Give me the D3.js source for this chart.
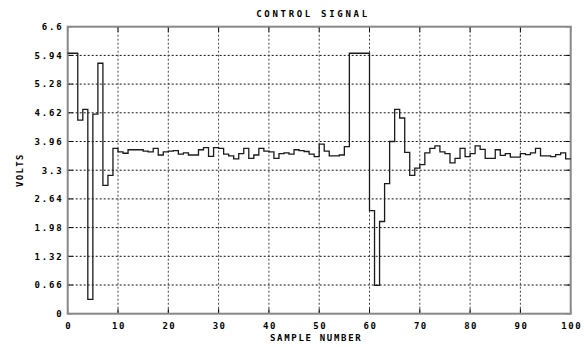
<!DOCTYPE html>
<html>
<head>
<meta charset="utf-8">
<style>
body{
    margin:0;
    background:#fff;
}
svg text{
    font-family:"DejaVu Sans Mono", "Liberation Mono", monospace;
    font-weight:bold;
    fill:#000;
}
</style>
<title>Control Signal</title>
</head>
<body>
<svg id="chart" width="584" height="347"></svg>
<script src="https://d3js.org/d3.v7.min.js"></script>
<script>
// control signal, one value per sample (volts), samples 0..99
var volts = [
 5.99, 5.99, 4.45, 4.70, 0.33, 4.59, 5.76, 2.95, 3.18, 3.80,
 3.72, 3.69, 3.77, 3.77, 3.77, 3.74, 3.72, 3.80, 3.65, 3.72,
 3.74, 3.75, 3.67, 3.70, 3.65, 3.65, 3.77, 3.82, 3.62, 3.82,
 3.80, 3.67, 3.63, 3.56, 3.68, 3.80, 3.57, 3.65, 3.80, 3.74,
 3.72, 3.57, 3.68, 3.70, 3.67, 3.77, 3.75, 3.73, 3.67, 3.61,
 3.90, 3.74, 3.63, 3.63, 3.65, 3.84, 5.99, 5.99, 5.99, 5.99,
 2.37, 0.65, 2.12, 2.99, 3.96, 4.70, 4.50, 3.71, 3.18, 3.35,
 3.43, 3.70, 3.80, 3.86, 3.72, 3.68, 3.47, 3.57, 3.80, 3.61,
 3.68, 3.86, 3.78, 3.57, 3.57, 3.77, 3.64, 3.68, 3.60, 3.60,
 3.68, 3.66, 3.70, 3.80, 3.63, 3.63, 3.61, 3.66, 3.70, 3.56
];
var xTicks = [0, 10, 20, 30, 40, 50, 60, 70, 80, 90, 100];
var yTicks = [0, 0.66, 1.32, 1.98, 2.64, 3.3, 3.96, 4.62, 5.28, 5.94, 6.6];
var title = "CONTROL SIGNAL";
var xTitle = "SAMPLE NUMBER";
var yTitle = "VOLTS";

var svg = d3.select("#chart");
var m = {l: 67.7, r: 570.7, t: 26.7, b: 313.7};

var x = d3.scaleLinear().domain([0, 100]).range([m.l, m.r]);
var y = d3.scaleLinear().domain([0, 6.6]).range([m.b, m.t]);

// grid
svg.append("g").selectAll("line").data(yTicks.slice(1, -1)).enter().append("line")
    .attr("x1", m.l).attr("x2", m.r)
    .attr("y1", function(d){ return y(d); }).attr("y2", function(d){ return y(d); })
    .attr("stroke", "#111").attr("stroke-width", 1).attr("stroke-dasharray", "2,2");
svg.append("g").selectAll("line").data(xTicks.slice(1, -1)).enter().append("line")
    .attr("y1", m.t).attr("y2", m.b)
    .attr("x1", function(d){ return x(d); }).attr("x2", function(d){ return x(d); })
    .attr("stroke", "#444").attr("stroke-width", 1).attr("stroke-dasharray", "2,2");

// inward ticks on all sides
var tk = 5;
var ticks = svg.append("g").attr("stroke", "#000").attr("stroke-width", 1);
yTicks.forEach(function(d){
    ticks.append("line").attr("x1", m.l).attr("x2", m.l + tk).attr("y1", y(d)).attr("y2", y(d));
    ticks.append("line").attr("x1", m.r - tk).attr("x2", m.r).attr("y1", y(d)).attr("y2", y(d));
});
xTicks.forEach(function(d){
    ticks.append("line").attr("y1", m.b).attr("y2", m.b - tk).attr("x1", x(d)).attr("x2", x(d));
    ticks.append("line").attr("y1", m.t).attr("y2", m.t + tk).attr("x1", x(d)).attr("x2", x(d));
});

// frame
svg.append("rect")
    .attr("x", m.l).attr("y", m.t)
    .attr("width", m.r - m.l).attr("height", m.b - m.t)
    .attr("fill", "none").attr("stroke", "#888").attr("stroke-width", 2);

// step trace
var pts = volts.map(function(v, i){ return [i, v]; });
pts.push([volts.length, volts[volts.length - 1]]);
var line = d3.line()
    .x(function(d){ return x(d[0]); })
    .y(function(d){ return y(d[1]); })
    .curve(d3.curveStepAfter);
svg.append("path").datum(pts)
    .attr("d", line)
    .attr("fill", "none").attr("stroke", "#1a1a1a").attr("stroke-width", 1.3);

// tick labels
svg.append("g").selectAll("text").data(yTicks).enter().append("text")
    .attr("x", m.l - 4).attr("y", function(d){ return y(d) + 3.3; })
    .attr("text-anchor", "end")
    .style("font-size", "9px").style("letter-spacing", "1.9px")
    .text(function(d){ return d; });
svg.append("g").selectAll("text").data(xTicks).enter().append("text")
    .attr("x", function(d){ return x(d) + 1; }).attr("y", m.b + 15)
    .attr("text-anchor", "middle")
    .style("font-size", "9px").style("letter-spacing", "1.5px")
    .text(function(d){ return d; });

// titles
svg.append("text").attr("x", 313).attr("y", 17)
    .attr("text-anchor", "middle")
    .style("font-size", "9px").style("letter-spacing", "2.7px")
    .text(title);
svg.append("text").attr("x", (m.l + m.r) / 2 - 3).attr("y", m.b + 27)
    .attr("text-anchor", "middle")
    .style("font-size", "9px").style("letter-spacing", "1.7px")
    .text(xTitle);
svg.append("text")
    .attr("transform", "translate(23," + ((m.t + m.b) / 2) + ") rotate(-90)")
    .attr("text-anchor", "middle")
    .style("font-size", "9px").style("letter-spacing", "1.3px")
    .text(yTitle);
</script>
</body>
</html>
